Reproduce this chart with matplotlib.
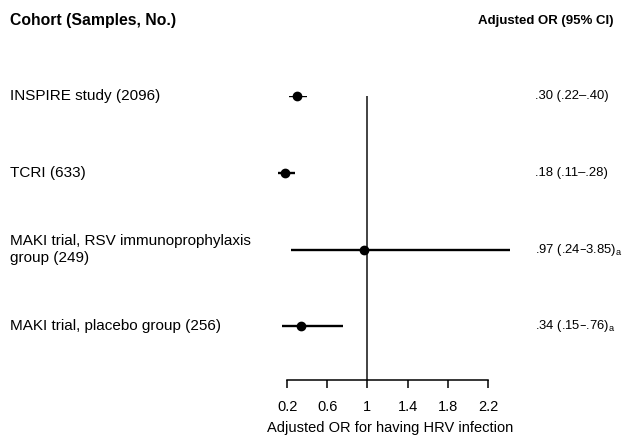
import matplotlib.pyplot as plt
from matplotlib.transforms import blended_transform_factory

plt.rcParams['font.family'] = ['Liberation Sans', 'DejaVu Sans']

# cohort data (top to bottom)
cohorts = [
    "INSPIRE study (2096)",
    "TCRI (633)",
    "MAKI trial, RSV immunoprophylaxis\ngroup (249)",
    "MAKI trial, placebo group (256)",
]
odds = [0.30, 0.18, 0.97, 0.34]
ci_low = [0.22, 0.11, 0.24, 0.15]
ci_high = [0.40, 0.28, 3.85, 0.76]
ci_text = [
    ".30 (.22\u2013.40)",
    ".18 (.11\u2013.28)",
    ".97 (.24\u20133.85)$_\\mathregular{a}$",
    ".34 (.15\u2013.76)$_\\mathregular{a}$",
]
ticks = [0.2, 0.6, 1, 1.4, 1.8, 2.2]
tick_labels = ["0.2", "0.6", "1", "1.4", "1.8", "2.2"]

W, H = 624, 440
fig = plt.figure(figsize=(W / 100, H / 100), dpi=100)
ax = fig.add_axes([270 / W, 60 / H, 240 / W, 284 / H])

n = len(cohorts)
ypos = list(range(n, 0, -1))
y_bottom = 0.3
ax.set_xlim(0.03, 2.42)
ax.set_ylim(y_bottom, n)

ax.vlines(1, y_bottom, n, color='#222222', lw=1.2)
ax.hlines(ypos, ci_low, ci_high, color='black', lw=1.7)
ax.plot(odds, ypos, 'o', color='black', ms=6, clip_on=False, zorder=3)

for s in ['top', 'right', 'left']:
    ax.spines[s].set_visible(False)
ax.spines['bottom'].set_bounds(ticks[0], ticks[-1])
ax.spines['bottom'].set_linewidth(1.1)
ax.set_yticks([])
ax.set_xticks(ticks)
ax.set_xticklabels(tick_labels)
ax.tick_params(axis='x', direction='out', length=5.5, width=1.1,
               labelsize=10.5, pad=9, colors='black')
ax.set_xlabel("Adjusted OR for having HRV infection", fontsize=10.5, labelpad=5)

left = blended_transform_factory(fig.transFigure, ax.transData)
for y, name, txt in zip(ypos, cohorts, ci_text):
    ax.text(10 / W, y, name, transform=left, ha='left', va='center',
            fontsize=11, linespacing=1.2)
    ax.text(535 / W, y, txt, transform=left, ha='left', va='center',
            fontsize=9.4)

fig.text(10 / W, 1 - 21 / H, "Cohort (Samples, No.)", fontsize=11.3,
         fontweight='bold', ha='left', va='center')
fig.text(614 / W, 1 - 21 / H, "Adjusted OR (95% CI)", fontsize=9.5,
         fontweight='bold', ha='right', va='center')

fig.savefig("out.png", dpi=100)
